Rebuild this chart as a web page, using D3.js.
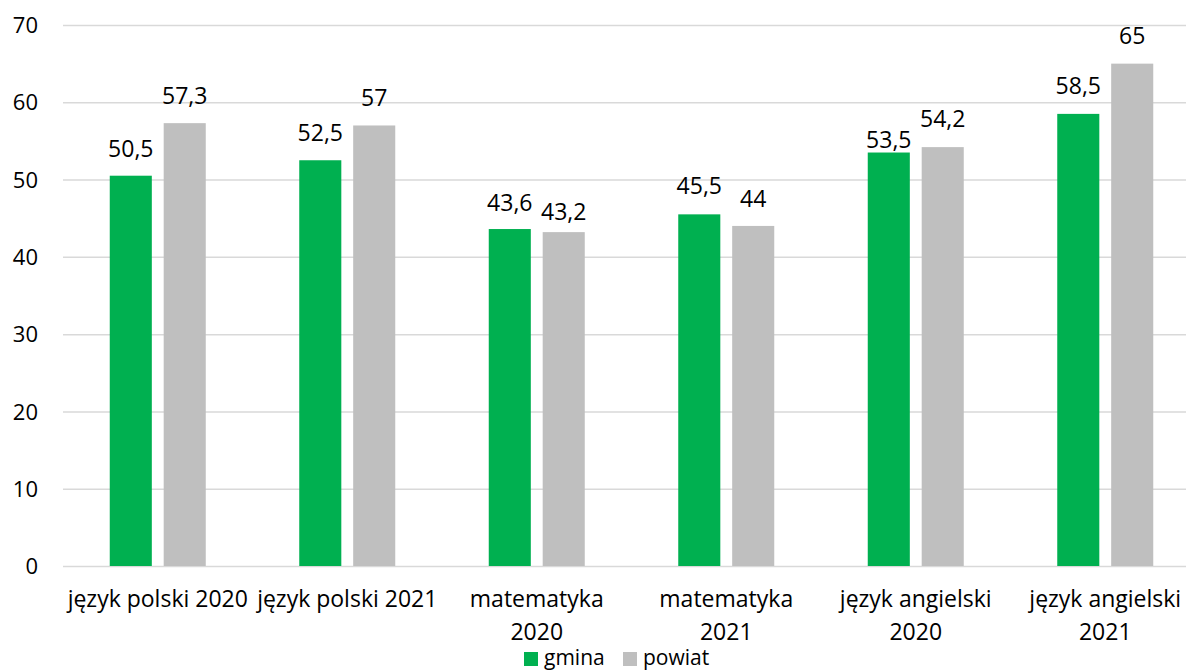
<!DOCTYPE html>
<html>
<head>
<meta charset="utf-8">
<script src="https://cdn.jsdelivr.net/npm/d3@7"></script>
<style>
  body { margin: 0; background: #fff; }
  svg text { font-family: "Open Sans", sans-serif; fill: #000; }
</style>
</head>
<body>
<div id="chart"></div>
<script>
// data
var categories = [
    ["język polski 2020"],
    ["język polski 2021"],
    ["matematyka", "2020"],
    ["matematyka", "2021"],
    ["język angielski", "2020"],
    ["język angielski", "2021"]
];
var seriesNames = ["gmina", "powiat"];
var gmina = [50.5, 52.5, 43.6, 45.5, 53.5, 58.5];
var powiat = [57.3, 57, 43.2, 44, 54.2, 65];
var yTicks = [0, 10, 20, 30, 40, 50, 60, 70];
var colors = ["#00B050", "#BFBFBF"];

// label gaps above bar top (a few were nudged in the original)
var gapGmina = [19, 19, 18, 20, 5, 20];
var gapPowiat = [19, 19, 12, 19, 20, 20];

var W = 1186, H = 671;

var svg = d3.select("#chart").append("svg")
    .attr("width", W)
    .attr("height", H);

// scales
var y = d3.scaleLinear().domain([0, 70]).range([566, 25]);
var x0 = d3.scaleBand().domain(d3.range(categories.length)).range([63, 1200]);
var bw = x0.bandwidth();
var x1 = d3.scaleBand().domain(seriesNames).range([bw / 2 - 48, bw / 2 + 48])
    .paddingInner(0.22);

// grid
var yAxis = d3.axisLeft(y).tickValues(yTicks).tickSize(-(W - 63)).tickFormat(d3.format("d"));
var gAxis = svg.append("g").attr("transform", "translate(63,0)").call(yAxis);
gAxis.select(".domain").remove();
gAxis.selectAll(".tick line").attr("stroke", "#D9D9D9").attr("stroke-width", 1.5);
gAxis.selectAll(".tick text")
    .attr("x", -25)
    .attr("font-size", 22)
    .attr("dy", "0.35em");

// bars
var rows = categories.map(function(c, i){
    return {i: i, vals: [gmina[i], powiat[i]], gaps: [gapGmina[i], gapPowiat[i]]};
});

var groups = svg.selectAll("g.group").data(rows).enter().append("g")
    .attr("class", "group")
    .attr("transform", function(d){ return "translate(" + x0(d.i) + ",0)"; });

var bars = groups.selectAll("rect").data(function(d){
    return d.vals.map(function(v, k){ return {k: k, v: v, gap: d.gaps[k]}; });
}).enter();

bars.append("rect")
    .attr("x", function(d){ return x1(seriesNames[d.k]); })
    .attr("width", x1.bandwidth())
    .attr("y", function(d){ return y(d.v); })
    .attr("height", function(d){ return y(0) - y(d.v); })
    .attr("fill", function(d){ return colors[d.k]; });

bars.append("text")
    .attr("x", function(d){ return x1(seriesNames[d.k]) + x1.bandwidth() / 2; })
    .attr("y", function(d){ return y(d.v) - d.gap; })
    .attr("text-anchor", "middle")
    .attr("font-size", 23)
    .text(function(d){ return String(d.v).replace(".", ","); });

// category labels
var catLabels = svg.selectAll("text.cat").data(rows).enter().append("text")
    .attr("class", "cat")
    .attr("text-anchor", "middle")
    .attr("font-size", 23)
    .attr("y", 607);
catLabels.selectAll("tspan").data(function(d){
        return categories[d.i].map(function(t){ return {i: d.i, t: t}; });
    }).enter()
    .append("tspan")
    .attr("x", function(d){ return x0(d.i) + bw / 2; })
    .attr("dy", function(d, k){ return k === 0 ? 0 : 33; })
    .text(function(d){ return d.t; });

// legend
var legend = svg.append("g").attr("transform", "translate(524,652)");
var lx = [0, 99];
seriesNames.forEach(function(name, k){
    legend.append("rect")
        .attr("x", lx[k]).attr("y", 0)
        .attr("width", 14).attr("height", 14)
        .attr("fill", colors[k]);
    legend.append("text")
        .attr("x", lx[k] + 20).attr("y", 13)
        .attr("font-size", 21)
        .text(name);
});
</script>
</body>
</html>
